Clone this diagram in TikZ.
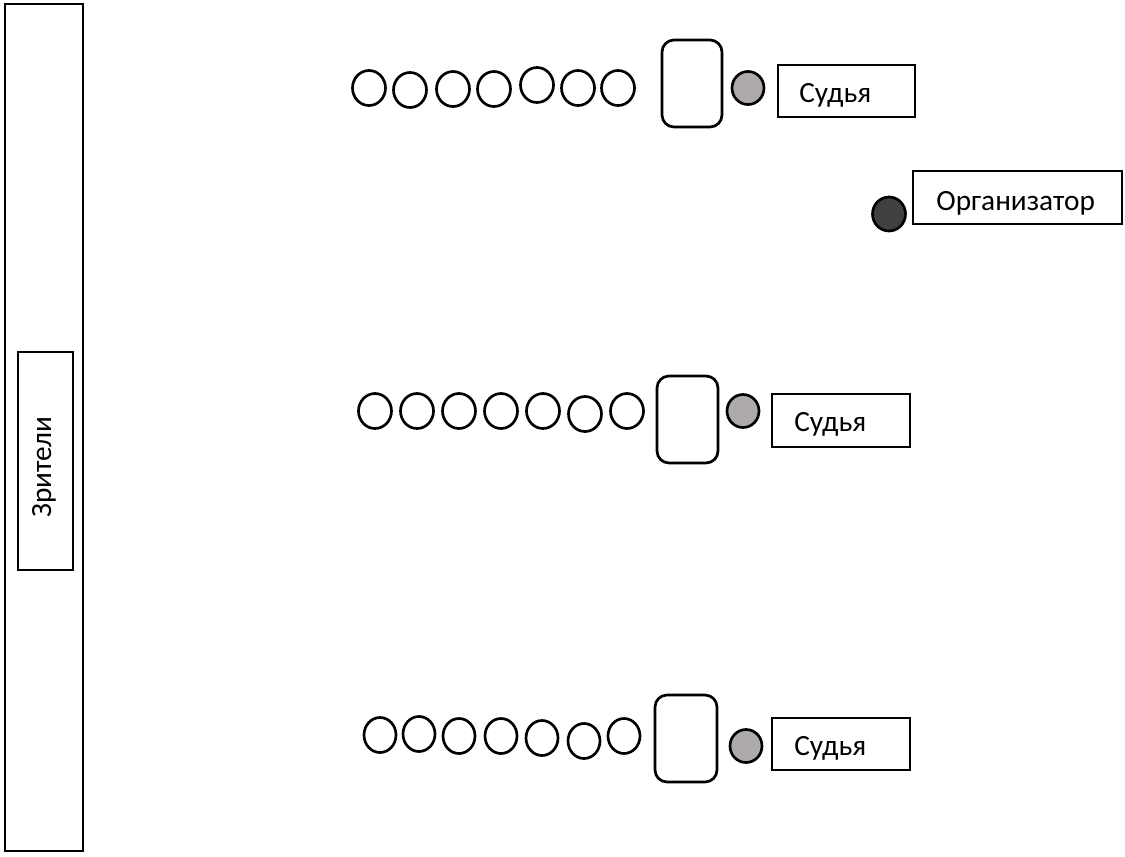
\documentclass[tikz,border=0pt]{standalone}
\usepackage{fontspec}
\setmainfont{Carlito}
\usetikzlibrary{positioning}

\definecolor{judgegray}{HTML}{AEAAAA}
\definecolor{orggray}{HTML}{404040}

\begin{document}
\begin{tikzpicture}[x=0.75pt,y=-0.75pt,line width=2pt,
    seat/.style={line width=2pt},
    judge/.style={fill=judgegray,line width=2pt},
    tag/.style={inner sep=0pt,anchor=base west,font=\fontsize{22}{26}\selectfont}]
    \useasboundingbox (0,0) rectangle (1125,857);

    % spectators along the left wall
    \draw[line width=2pt] (5,4) rectangle (83,851);
    \draw[line width=1.5pt] (18,352) rectangle (73,570);
    \node[tag,anchor=center,rotate=90] (viewers) at (44,467) {Зрители};

    % first row
    \foreach \x/\y in {369/88, 410/90, 453/89, 494/89, 537/85, 578/88, 618/88}
      \draw[seat] (\x,\y) ellipse (16.5 and 17.5);
    \draw[rounded corners=9pt] (662,40) rectangle (722,127);
    \draw[judge] (748,88) ellipse (16 and 16.5);
    \draw[line width=1.5pt] (778,65) rectangle (915,117);
    \node[tag] (judgeA) at (798,102) {Судья};

    % organizer
    \draw[fill=orggray] (889,214) ellipse (16.5 and 17);
    \draw[line width=1.5pt] (913,171) rectangle (1122,224);
    \node[tag] (organizer) at (935,210) {Организатор};

    % second row
    \foreach \x/\y in {375/411, 417/411, 459/411, 501/411, 543/411, 585/414, 627/411}
      \draw[seat] (\x,\y) ellipse (16.5 and 17.5);
    \draw[rounded corners=9pt] (657,376) rectangle (718,463);
    \draw[judge] (743,411) ellipse (16 and 16.5);
    \draw[line width=1.5pt] (772,394) rectangle (910,447);
    \node[tag] (judgeB) at (793,431) {Судья};

    % third row
    \foreach \x/\y in {380/735, 419/734, 459/736, 501/736, 542/738, 584/741, 624/736}
      \draw[seat] (\x,\y) ellipse (16 and 17.5);
    \draw[rounded corners=9pt] (655,695) rectangle (717,782);
    \draw[judge] (746,746) ellipse (16 and 16.5);
    \draw[line width=1.5pt] (772,718) rectangle (910,770);
    \node[tag] (judgeC) at (793,755) {Судья};
\end{tikzpicture}
\end{document}
